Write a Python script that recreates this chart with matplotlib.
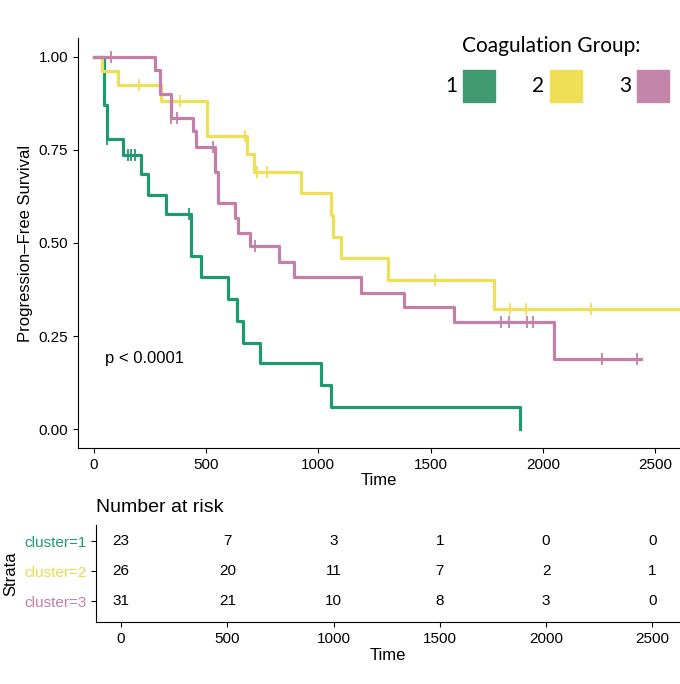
import matplotlib
matplotlib.use("Agg")
import matplotlib.pyplot as plt
from matplotlib.patches import Rectangle

g_t = [0, 44, 60, 130, 210, 240, 320, 432, 480, 596, 640, 667, 740, 1010, 1058, 1900]
g_s = [1.0, 0.87, 0.78, 0.735, 0.684, 0.63, 0.579, 0.466, 0.408, 0.35, 0.292, 0.233, 0.177, 0.118, 0.059, 0.0]
g_c = [60, 151, 165, 182, 425]
g_end = 1900

y_t = [0, 36, 107, 298, 503, 681, 716, 921, 1058, 1065, 1103, 1312, 1784]
y_s = [1.0, 0.961, 0.923, 0.88, 0.788, 0.74, 0.69, 0.633, 0.576, 0.517, 0.461, 0.402, 0.322]
y_c = [200, 383, 672, 725, 773, 1521, 1855, 1926, 2215]
y_end = 2620

p_t = [0, 271, 294, 343, 440, 454, 538, 552, 627, 641, 694, 823, 894, 1192, 1380, 1606, 2051]
p_s = [1.0, 0.965, 0.90, 0.835, 0.80, 0.757, 0.69, 0.606, 0.568, 0.528, 0.493, 0.45, 0.408, 0.367, 0.327, 0.287, 0.19]
p_c = [76, 345, 373, 529, 720, 1815, 1851, 1931, 1957, 2264, 2420]
p_end = 2437

risk_times = [0, 500, 1000, 1500, 2000, 2500]
risk_1 = [23, 7, 3, 1, 0, 0]
risk_2 = [26, 20, 11, 7, 2, 1]
risk_3 = [31, 21, 10, 8, 3, 0]
strata = ["cluster=1", "cluster=2", "cluster=3"]

cg, cy, cp = "#1F9A6C", "#EEDF55", "#C47FA8"
lg, ly, lp = "#3F9A72", "#EEDF55", "#C385A9"

plt.rcParams['font.family'] = ['Liberation Sans', 'DejaVu Sans']
fig = plt.figure(figsize=(6.8, 6.84), dpi=100)
W, H = 680, 684
ax = fig.add_axes([78/W, 1-448/H, (680-78)/W, (448-38)/H])

for t, s, c, end, col in [(g_t, g_s, g_c, g_end, cg), (y_t, y_s, y_c, y_end, cy), (p_t, p_s, p_c, p_end, cp)]:
    xs = list(t) + [end]
    ys = list(s) + [s[-1]]
    ax.step(xs, ys, where='post', color=col, lw=2.3)
    cs = [[sv for tt, sv in zip(t, s) if tt <= x][-1] for x in c]
    ax.plot(c, cs, ls='none', marker='|', ms=8, mew=1.3, color=col)

ax.set_xlim(-70, 2611)
ax.set_ylim(-0.05, 1.05)
ax.set_yticks([0, 0.25, 0.5, 0.75, 1.0])
ax.set_yticklabels(["0.00", "0.25", "0.50", "0.75", "1.00"])
ax.set_xticks([0, 500, 1000, 1500, 2000, 2500])
for sp in ['top', 'right']:
    ax.spines[sp].set_visible(False)
ax.tick_params(labelsize=11)
ax.set_xlabel("Time", fontsize=12, labelpad=1)
ax.set_ylabel("Progression\u2013Free Survival", fontsize=12)
ax.text(50, 0.19, "p < 0.0001", fontsize=12, va='center')

fig.text(462/W, 1-46/H, "Coagulation Group:", fontsize=15, family='Lato', va='center')
for i, (lab, col) in enumerate(zip(["1", "2", "3"], [lg, ly, lp])):
    x0 = 445 + i*87
    fig.text(x0/W, 1-86/H, lab, fontsize=15, family='Lato', va='center')
    fig.patches.append(Rectangle(((x0+18)/W, 1-102/H), 32/W, 32/H, transform=fig.transFigure, color=col))

ta = fig.add_axes([96/W, 1-622/H, (680-96)/W, (622-525)/H])
ta.set_xlim(-118, 2630)
ta.set_ylim(0.3, 3.55)
for sp in ['top', 'right']:
    ta.spines[sp].set_visible(False)
for row, vals in enumerate([risk_1, risk_2, risk_3]):
    yy = 3 - row
    for x, v in zip(risk_times, vals):
        ta.text(x, yy, str(v), ha='center', va='center', fontsize=11)
ta.set_yticks([3, 2, 1])
ta.set_yticklabels(strata, fontsize=10)
for lbl, col in zip(ta.get_yticklabels(), [cg, "#E8D84E", cp]):
    lbl.set_color(col)
ta.set_xticks(risk_times)
ta.tick_params(labelsize=11)
ta.set_xlabel("Time", fontsize=12, labelpad=2)
ta.set_ylabel("Strata", fontsize=12)
fig.text(96/W, 1-508/H, "Number at risk", fontsize=14, va='center')

fig.savefig("out.png", dpi=100)
